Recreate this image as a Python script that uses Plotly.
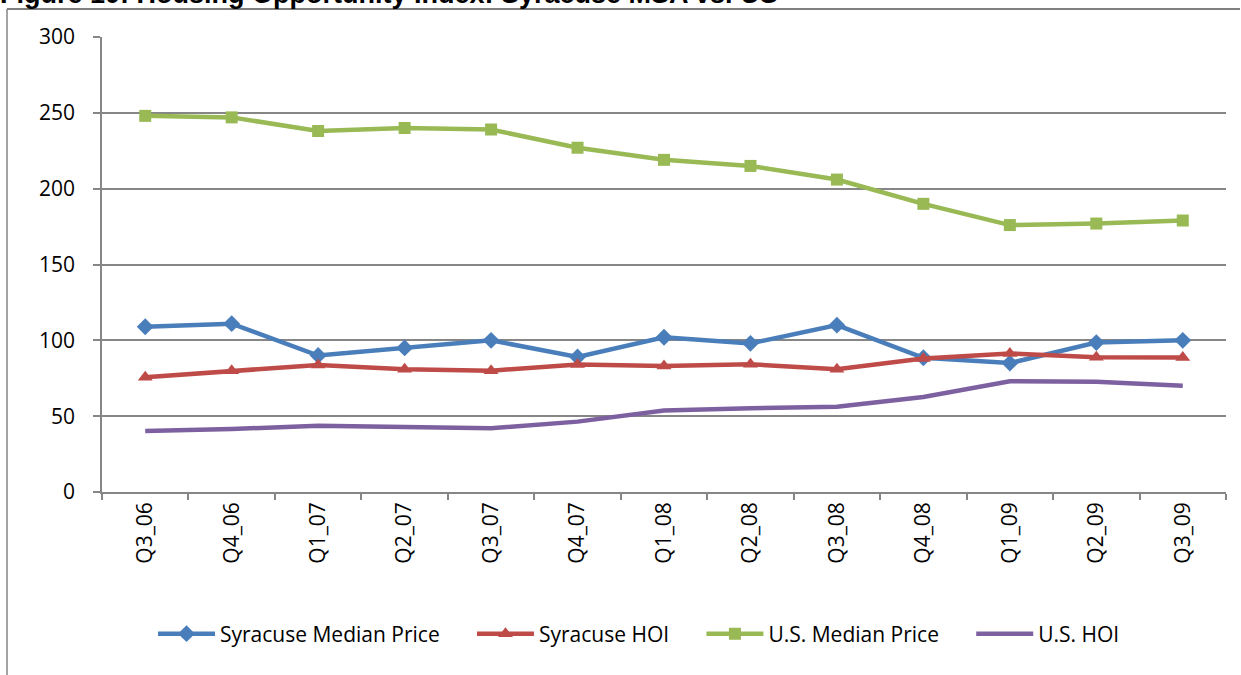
import plotly.graph_objects as go

quarters = ["Q3_06", "Q4_06", "Q1_07", "Q2_07", "Q3_07", "Q4_07", "Q1_08",
            "Q2_08", "Q3_08", "Q4_08", "Q1_09", "Q2_09", "Q3_09"]
syr_median = [109, 111, 90, 95, 100, 89, 102, 98, 110, 88.5, 85, 98.5, 100]
syr_hoi = [75.6, 80, 83.8, 81, 80, 84, 83, 84.2, 81, 88, 91.4, 88.8, 88.6]
us_median = [248, 247, 238, 240, 239, 227, 219, 215, 206, 190, 176, 177, 179]
us_hoi = [40.2, 41.5, 43.7, 43, 42, 46.4, 53.8, 55.2, 56.2, 62.6, 73, 72.7, 70.1]
y_ticks = [0, 50, 100, 150, 200, 250, 300]
series_names = ["Syracuse Median Price", "Syracuse HOI", "U.S. Median Price", "U.S. HOI"]

FONT = "'Open Sans', Lato, sans-serif"
PAD = "\u00a0" * 5  # spacing after legend texts

# plot area in pixels: x 102..1226, y 37..492
L, R, T, B = 102, 1226, 37, 492
W, H = R - L, B - T


def px(x):
    return (x - L) / W


def py(y):
    return (B - y) / H


fig = go.Figure()
fig.add_trace(go.Scatter(x=quarters, y=syr_median, name=series_names[0] + PAD,
                         mode="lines+markers",
                         line=dict(color="#4A7EBB", width=4.5),
                         marker=dict(symbol="diamond", size=13, color="#4A7EBB")))
fig.add_trace(go.Scatter(x=quarters, y=syr_hoi, name=series_names[1] + PAD,
                         mode="lines+markers",
                         line=dict(color="#BE4B48", width=4.5),
                         marker=dict(symbol="triangle-up", size=13, color="#BE4B48")))
fig.add_trace(go.Scatter(x=quarters, y=us_median, name=series_names[2] + PAD,
                         mode="lines+markers",
                         line=dict(color="#98B954", width=4.5),
                         marker=dict(symbol="square", size=12, color="#98B954")))
fig.add_trace(go.Scatter(x=quarters, y=us_hoi, name=series_names[3],
                         mode="lines",
                         line=dict(color="#7D60A0", width=4.5)))

fig.update_layout(
    width=1241, height=675,
    margin=dict(l=L, r=1241 - R, t=T, b=675 - B),
    paper_bgcolor="white", plot_bgcolor="white",
    font=dict(family=FONT, size=21, color="black"),
    showlegend=True,
    legend=dict(orientation="h", x=px(153), xanchor="left", y=py(634), yanchor="middle",
                font=dict(family=FONT, size=21), itemwidth=57, tracegroupgap=0,
                bgcolor="rgba(0,0,0,0)"),
    xaxis=dict(type="category", tickangle=-90, showline=True, linecolor="#868686",
               linewidth=1.5, ticks="outside", tickson="boundaries", ticklen=6,
               tickcolor="#868686", tickwidth=1.5, showgrid=False,
               tickfont=dict(family=FONT, size=21), range=[-0.5, 12.5]),
    yaxis=dict(range=[0, 300], tickvals=y_ticks, showline=True, linecolor="#868686",
               linewidth=1.5, ticks="outside", ticklen=7, tickcolor="#868686",
               tickwidth=1.5, ticklabelstandoff=14,
               showgrid=True, gridcolor="#868686", gridwidth=1.5, zeroline=False,
               tickfont=dict(family=FONT, size=21)),
)

# outer chart frame (left and top edges)
fig.add_shape(type="line", xref="paper", yref="paper",
              x0=px(7), x1=px(7), y0=py(680), y1=py(9),
              line=dict(color="#868686", width=1.5), layer="above")
fig.add_shape(type="line", xref="paper", yref="paper",
              x0=px(7), x1=px(1240), y0=py(9), y1=py(9),
              line=dict(color="#7F7F7F", width=2), layer="above")

# partially clipped title at the very top
fig.add_annotation(text="<b>Figure 10: Housing Opportunity Index: Syracuse MSA vs. US</b>",
                   xref="paper", yref="paper", x=px(-2), xanchor="left",
                   y=py(11), yanchor="bottom", showarrow=False,
                   font=dict(family="Arial, 'Liberation Sans', sans-serif",
                             size=27, color="black"))

fig.write_html("out.html", config={"displayModeBar": False},
               post_script="document.body.style.margin='0px';")
